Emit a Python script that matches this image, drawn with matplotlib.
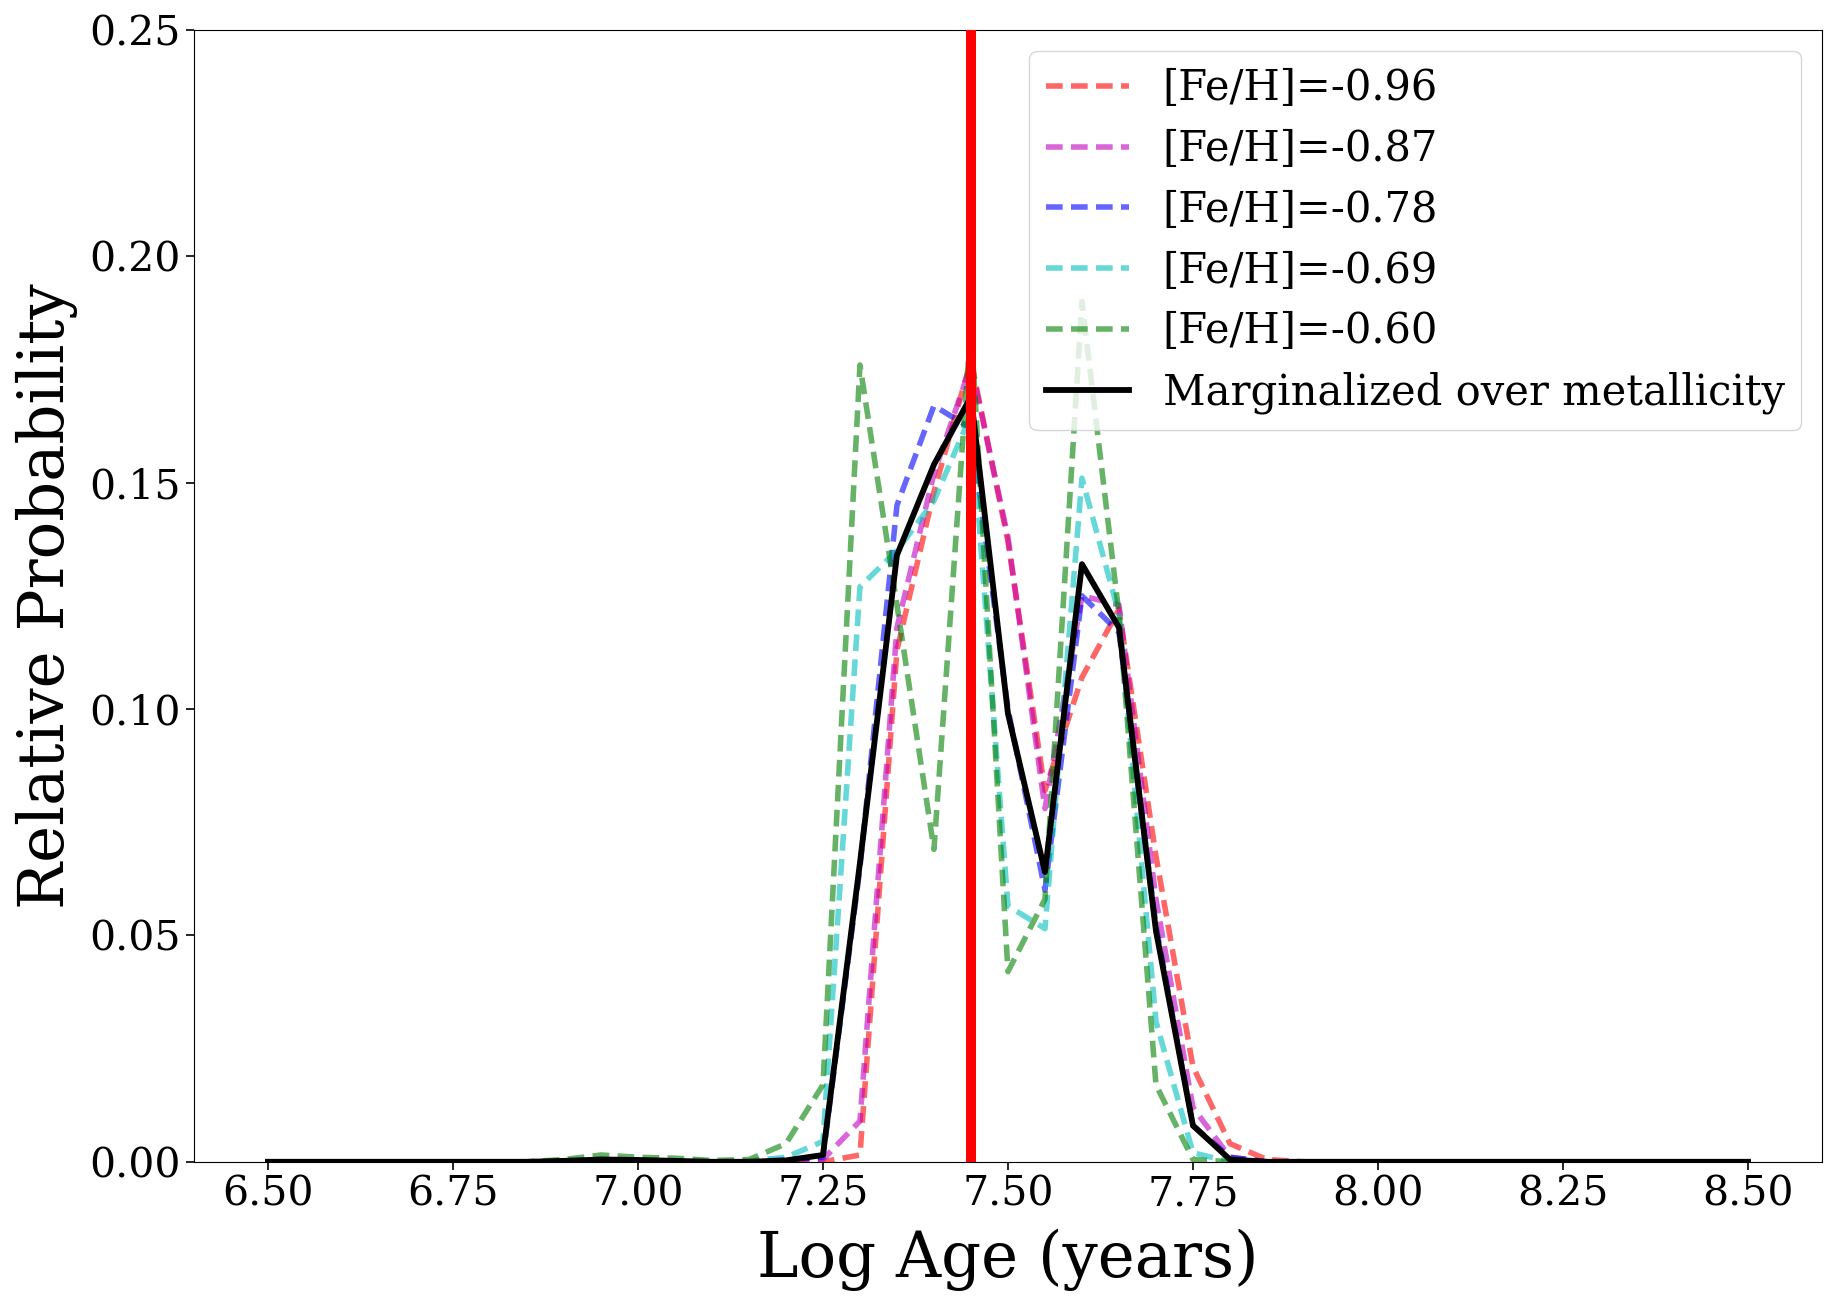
import matplotlib.pyplot as plt
import numpy as np

# Сетка по возрасту: 6.50 ... 8.50 с шагом 0.05
log_age = np.round(np.arange(6.50, 8.5001, 0.05), 2)

# Вероятности для каждой металличности
#            6.50 ..6.85 (8 точек)      6.90    6.95    7.00    7.05    7.10    7.15    7.20    7.25    7.30   7.35   7.40   7.45   7.50   7.55   7.60   7.65   7.70    7.75    7.80    7.85    7.90..8.50
p_096 = [0]*8 + [0,      0,      0,      0,      0,      0,      0,      0,      0.0015, 0.113, 0.148, 0.177, 0.137, 0.082, 0.107, 0.122, 0.0675, 0.021,  0.004,  0.0005] + [0]*13
p_087 = [0]*8 + [0,      0.0003, 0.0002, 0,      0,      0,      0,      0.0005, 0.009,  0.118, 0.152, 0.176, 0.138, 0.078, 0.125, 0.123, 0.058,  0.012,  0.001,  0]      + [0]*13
p_078 = [0]*8 + [0,      0.0004, 0.0003, 0,      0,      0,      0.0005, 0.001,  0.065,  0.145, 0.167, 0.162, 0.100, 0.060, 0.125, 0.117, 0.052,  0.008,  0.001,  0]      + [0]*13
p_069 = [0]*8 + [0.0002, 0.0006, 0.0004, 0.0002, 0,      0.0002, 0.001,  0.0045, 0.127,  0.135, 0.146, 0.165, 0.0565, 0.0515, 0.151, 0.121, 0.031, 0.002,  0,      0]      + [0]*13
p_060 = [0]*8 + [0.0005, 0.0015, 0.001,  0.0008, 0.0003, 0.0005, 0.004,  0.017,  0.176,  0.123, 0.069, 0.185, 0.042, 0.058, 0.190, 0.121, 0.017,  0.0005, 0,      0]      + [0]*13
p_marg = [0]*8 + [0.0002, 0.0005, 0.0004, 0.0002, 0,      0,      0.0003, 0.0015, 0.066,  0.134, 0.154, 0.169, 0.099, 0.064, 0.132, 0.118, 0.051,  0.008,  0.0005, 0]      + [0]*13

feh_labels = ['[Fe/H]=-0.96', '[Fe/H]=-0.87', '[Fe/H]=-0.78', '[Fe/H]=-0.69', '[Fe/H]=-0.60']
feh_colors = ['r', 'm', 'b', 'c', 'g']
best_age = 7.45

plt.rcParams['font.family'] = ['DejaVu Serif']

fig = plt.figure(figsize=(18.38, 13.01), dpi=100)
ax = fig.add_axes([0.1055, 0.107, 0.8858, 0.870])

for p, lab, col in zip([p_096, p_087, p_078, p_069, p_060], feh_labels, feh_colors):
    ax.plot(log_age, p, '--', dashes=(3.0, 1.5), color=col, alpha=0.6, linewidth=4, label=lab)
ax.plot(log_age, p_marg, 'k-', linewidth=4.2, label='Marginalized over metallicity')

# Лучшая оценка возраста
ax.axvline(best_age, color='r', linewidth=7.2, zorder=5)

ax.set_ylim(0, 0.25)
ax.set_xticks(np.arange(6.5, 8.51, 0.25))
ax.set_yticks(np.arange(0, 0.251, 0.05))
ax.xaxis.set_major_formatter(plt.FormatStrFormatter('%.2f'))
ax.yaxis.set_major_formatter(plt.FormatStrFormatter('%.2f'))
ax.tick_params(labelsize=29.5, length=6, width=1.2)
ax.set_xlabel('Log Age (years)', fontsize=45, labelpad=10)
ax.set_ylabel('Relative Probability', fontsize=45, labelpad=8)
ax.legend(loc='upper right', fontsize=30, labelspacing=0.45)

fig.savefig('out.png', dpi=100)
